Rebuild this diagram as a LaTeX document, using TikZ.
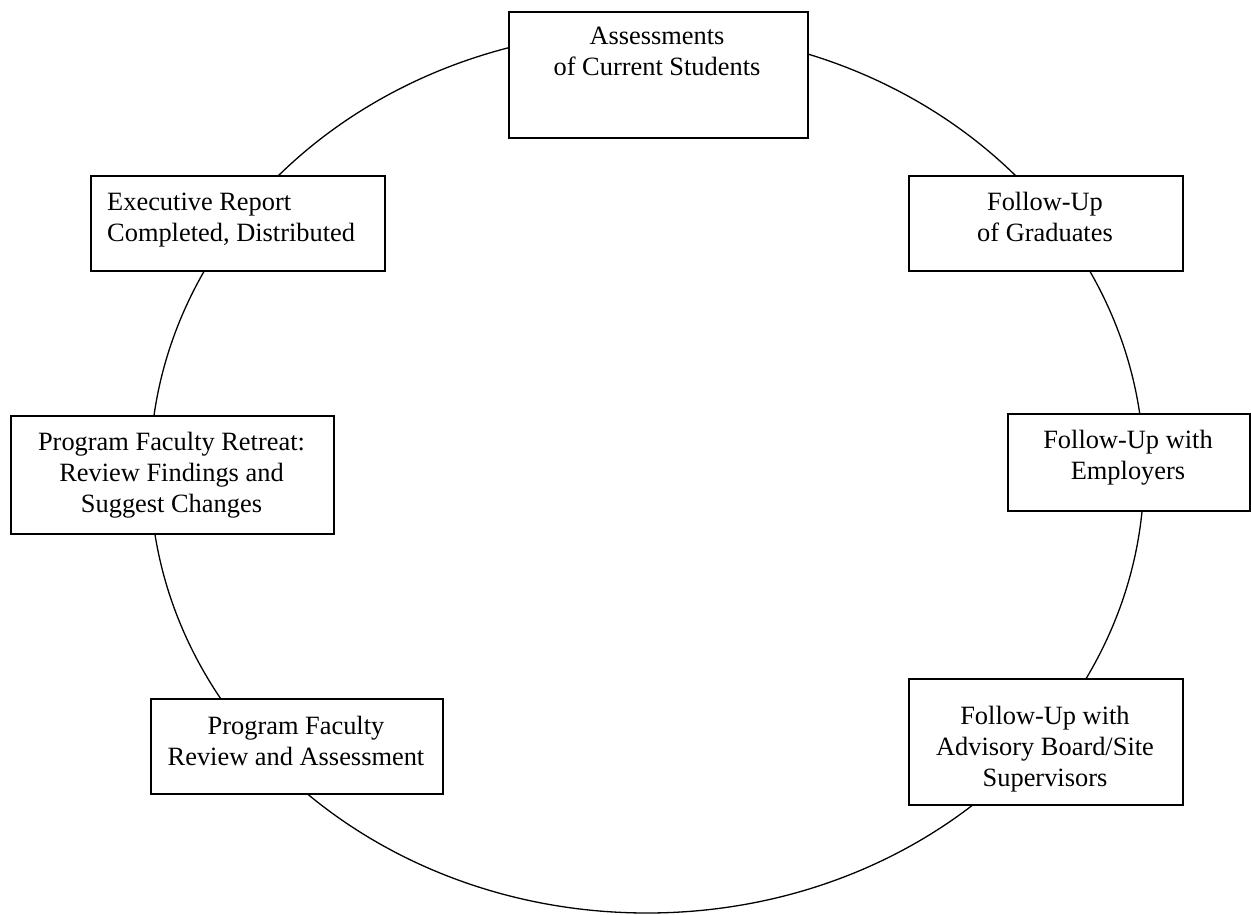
\documentclass[tikz,border=0pt]{standalone}
\usepackage{fontspec}
\setmainfont{Liberation Serif}
\begin{document}
\begin{tikzpicture}[x=1pt,y=-1pt,
  boxstyle/.style={draw=black,line width=2pt,fill=white,inner sep=0pt,anchor=north west},
  txt/.style={inner sep=0pt,font=\fontsize{26.4}{31}\selectfont,align=center,anchor=base}]
\useasboundingbox (0,0) rectangle (1251,915);
\draw[line width=1.3pt] (647,471.7) ellipse [x radius=497pt, y radius=441.3pt];
% boxes
\node[boxstyle,minimum width=299pt,minimum height=126pt] (assess) at (508,11) {};
\node[boxstyle,minimum width=294pt,minimum height=95pt] (exec) at (90,175) {};
\node[boxstyle,minimum width=274pt,minimum height=95pt] (grad) at (908,175) {};
\node[boxstyle,minimum width=323pt,minimum height=118pt] (retreat) at (10,415) {};
\node[boxstyle,minimum width=242pt,minimum height=97pt] (employ) at (1007,413) {};
\node[boxstyle,minimum width=292pt,minimum height=95pt] (review) at (150,698) {};
\node[boxstyle,minimum width=274pt,minimum height=126pt] (advis) at (908,678) {};
% texts (base anchor = baseline of the last line)
\node[txt] (tassess) at (657,76) {Assessments\\of Current Students};
\node[txt,align=left,anchor=base west] (texec) at (107,241) {Executive Report\\Completed, Distributed};
\node[txt] (tgrad) at (1045,241) {Follow-Up\\of Graduates};
\node[txt] (tretreat) at (171.5,512) {Program Faculty Retreat:\\Review Findings and\\Suggest Changes};
\node[txt] (temploy) at (1128,479) {Follow-Up with\\Employers};
\node[txt] (treview) at (296,765) {Program Faculty\\Review and Assessment};
\node[txt] (tadvis) at (1045,786) {Follow-Up with\\Advisory Board/Site\\Supervisors};
\end{tikzpicture}
\end{document}
